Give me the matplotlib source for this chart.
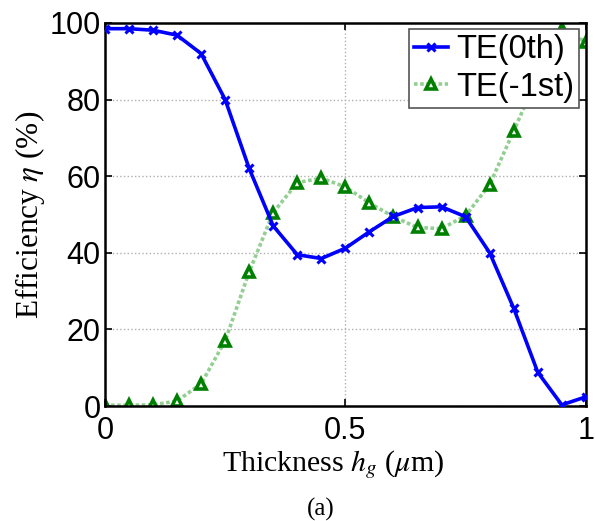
import numpy as np
import matplotlib
matplotlib.use('Agg')
import matplotlib.pyplot as plt

# grating thickness (um) and diffraction efficiencies (%)
thickness = [0.0, 0.05, 0.1, 0.15, 0.2, 0.25, 0.3, 0.35, 0.4, 0.45, 0.5,
             0.55, 0.6, 0.65, 0.7, 0.75, 0.8, 0.85, 0.9, 0.95, 1.0]
te_0th = [98.5, 98.5, 98.1, 96.8, 92.0, 80.0, 62.0, 47.0, 39.5, 38.5, 41.2,
          45.5, 49.5, 51.8, 52.0, 49.4, 40.0, 25.5, 8.8, 0.3, 2.4]
te_m1st = [0.2, 0.2, 0.3, 1.3, 5.8, 17.0, 35.0, 50.5, 58.3, 59.5, 57.2,
           53.0, 49.4, 46.6, 46.3, 49.7, 57.8, 71.8, 86.0, 98.5, 95.0]

plt.rcParams['mathtext.fontset'] = 'stix'

fig = plt.figure(figsize=(5.96, 5.21), dpi=100)
ax = fig.add_axes([0.176, 0.2207, 0.807, 0.7353])

ax.plot(thickness, te_0th, color='blue', linewidth=2.6, marker='x',
        markersize=6, markeredgewidth=2.2, label='TE(0th)', zorder=3)
ax.plot(thickness, te_m1st, color='#93cf93', linewidth=2.6,
        linestyle=(0, (1, 0.7)),
        marker='^', markersize=7.5, markeredgewidth=2.6,
        markeredgecolor='green', markerfacecolor='white',
        label='TE(-1st)', zorder=2)

ax.set_xlim(0, 1)
ax.set_ylim(0, 100)
ax.set_xticks([0, 0.5, 1])
ax.set_xticklabels(['0', '0.5', '1'])
ax.set_yticks([0, 20, 40, 60, 80, 100])
ax.grid(True, color='#b0b0b0', linestyle=':', linewidth=1)
ax.tick_params(direction='in', top=True, right=True, length=5, width=1.2,
               labelsize=22, pad=3)
ax.tick_params(axis='x', pad=7)
for lab in ax.get_xticklabels() + ax.get_yticklabels():
    lab.set_family('Liberation Sans')
for sp in ax.spines.values():
    sp.set_linewidth(1.8)

ax.set_xlabel(r'Thickness $h_g$ ($\mu$m)', family='Liberation Serif',
              fontsize=21.5, labelpad=2, x=0.475)
ax.set_ylabel(r'Efficiency $\eta$ (%)', family='Liberation Serif',
              fontsize=22.5, labelpad=2)

leg = ax.legend(loc='upper right', prop={'family': 'Liberation Sans', 'size': 23.5},
                fancybox=False, edgecolor='#555555', framealpha=1,
                borderpad=0.15, handlelength=1.05, handletextpad=0.25,
                labelspacing=0.2, borderaxespad=0.2)
leg.get_frame().set_linewidth(1.2)

fig.text(0.539, 0.01, '(a)', family='Liberation Serif', fontsize=18, ha='center')

fig.savefig('out.png', dpi=100)
